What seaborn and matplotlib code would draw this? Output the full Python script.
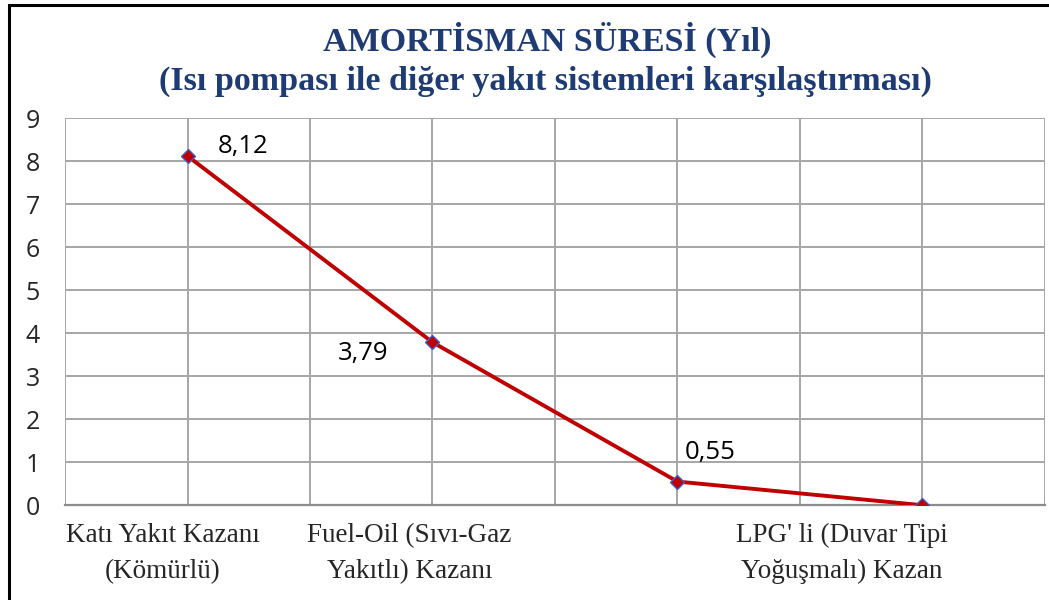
import matplotlib
matplotlib.use("Agg")
import matplotlib.pyplot as plt
import matplotlib.transforms as mtransforms
from matplotlib.patches import Rectangle
import seaborn as sns
import pandas as pd

# data
categories = ["Katı Yakıt Kazanı\n(Kömürlü)",
              "Fuel-Oil (Sıvı-Gaz\nYakıtlı) Kazanı",
              "LPG' li (Duvar Tipi\nYoğuşmalı) Kazan",
              ""]
years = [8.12, 3.79, 0.55, 0.0]
value_labels = ["8,12", "3,79", "0,55", ""]

df = pd.DataFrame({"kat": range(len(categories)), "yil": years})

sns.set_style("white")
fig = plt.figure(figsize=(10.49, 6.0), dpi=100)
ax = fig.add_axes([0.062, 0.158, 0.934, 0.645])

sns.lineplot(data=df, x="kat", y="yil", ax=ax, color="#C00000", linewidth=2.8,
             marker="D", markersize=7.5, markerfacecolor="#C00000",
             markeredgecolor="#3A5FCD", markeredgewidth=1.0, zorder=5)

ax.set_xlim(-0.5, len(categories) - 0.5)
ax.set_ylim(0, 9)
ax.set_yticks(range(0, 10))
ax.set_xticks(range(len(categories)))
ax.set_xticks([i - 0.5 for i in range(len(categories) + 1)], minor=True)
ax.set_xticklabels(categories, fontsize=19.5, family="Liberation Serif", linespacing=1.55)
ax.tick_params(axis="x", which="major", length=0, pad=13)
ax.tick_params(axis="x", which="minor", length=6, width=1.2, color="#808080", direction="out")
ax.tick_params(axis="y", length=7, width=1.2, color="#909090", pad=11)
for t in ax.get_yticklabels():
    t.set_fontsize(18)
    t.set_family("Open Sans")

# shift category labels as in the original
shifts = [-25, -23, 164, 0]
for t, s in zip(ax.get_xticklabels(), shifts):
    t.set_transform(t.get_transform() + mtransforms.ScaledTranslation(s / 100, 0, fig.dpi_scale_trans))

ax.grid(True, which="both", axis="x", color="#A6A6A6", linewidth=1.4)
ax.grid(True, which="major", axis="y", color="#A6A6A6", linewidth=1.4)
ax.set_axisbelow(True)
for side in ["top", "right", "left"]:
    ax.spines[side].set_visible(False)
ax.spines["bottom"].set_color("#8C8C8C")
ax.spines["bottom"].set_linewidth(1.6)
ax.set_xlabel("")
ax.set_ylabel("")

# data labels
offsets = [(22, 7, "left"), (-32, -8, "right"), (5, 21, "left")]
for i, (dx, dy, ha) in enumerate(offsets):
    ax.annotate(value_labels[i], (i, years[i]), xytext=(dx, dy), textcoords="offset points",
                ha=ha, va="center", fontsize=18.5, family="Open Sans", color="black")

fig.text(0.522, 0.933, "AMORTİSMAN SÜRESİ (Yıl)", ha="center", va="center",
         fontsize=24.5, fontweight="bold", family="Liberation Serif", color="#1F3B73")
fig.text(0.52, 0.864, "(Isı pompası ile diğer yakıt sistemleri karşılaştırması)", ha="center",
         va="center", fontsize=24.5, fontweight="bold", family="Liberation Serif", color="#1F3B73")

# outer frame
fig.patches.append(Rectangle((0.0086, -0.02), 1.1, 1.0117, transform=fig.transFigure,
                             fill=False, edgecolor="black", linewidth=2.2))

fig.savefig("out.png", dpi=100)
